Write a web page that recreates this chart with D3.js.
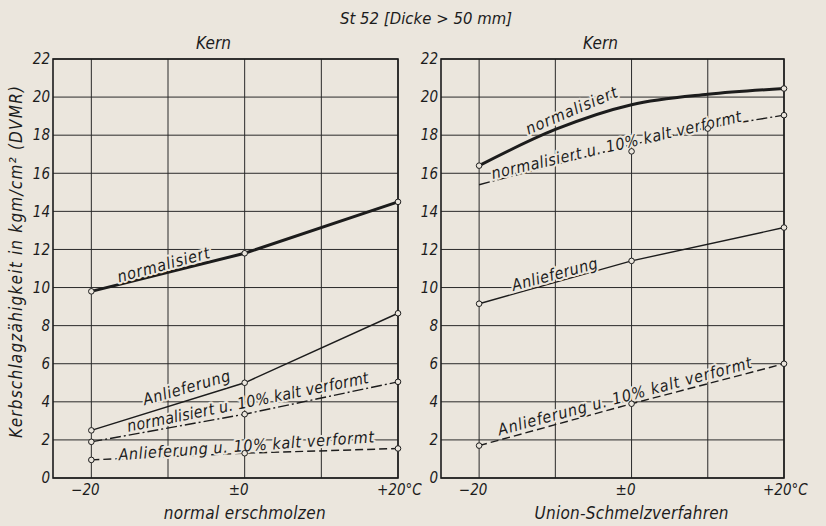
<!DOCTYPE html>
<html lang="de">
<head>
<meta charset="UTF-8">
<title>St 52 Kerbschlagzähigkeit</title>
<script src="https://d3js.org/d3.v7.min.js"></script>
<style>
    body { margin: 0; background: #ebe6dd; }
    svg { display: block; }
    text {
        font-family: "DejaVu Sans Condensed", "DejaVu Sans", sans-serif;
        font-style: italic;
        fill: #1c1c1c;
    }
    .grid line { stroke: #2a2a2a; stroke-width: 1; }
    .frame { fill: none; stroke: #1c1c1c; stroke-width: 1.6; }
    .halo { stroke: #ebe6dd; stroke-width: 4px; paint-order: stroke; stroke-linejoin: round; }
</style>
</head>
<body>
<svg width="826" height="526"></svg>
<script>
// temperatures in °C
const temps = [-20, 0, 20];
const tempsFine = [-20, -10, 0, 10, 20];
const tempsKalt = [-20, 0, 10, 20];
const tempsKaltPts = [0, 10, 20];

const yTicks = d3.range(0, 23, 2);
const xTickLabels = ["\u221220", "\u00b10", "+20\u00b0C"];

// Kerbschlagzähigkeit kgm/cm², normal erschmolzen
const leftNormalisiert = [9.8, 11.8, 14.5];
const leftAnlieferung = [2.5, 5.0, 8.65];
const leftNormKalt = [1.9, 3.35, 5.05];
const leftAnlKalt = [0.95, 1.3, 1.55];

// Union-Schmelzverfahren
const rightNormalisiert = [16.4, 18.3, 19.6, 20.15, 20.45];
const rightNormalisiertPts = [16.4, 20.45];
const rightNormKalt = [15.4, 17.5, 18.4, 19.05];
const rightNormKaltPts = [17.15, 18.35, 19.05];
const rightAnlieferung = [9.15, 11.4, 13.15];
const rightAnlKalt = [1.7, 3.9, 6.0];

const svg = d3.select("svg");

const y = d3.scaleLinear().domain([0, 22]).range([478, 59]);

const panels = [
    {
        x: d3.scaleLinear().domain([-25, 20]).range([53, 398]),
        sub: "normal erschmolzen", subLen: 162,
        series: [
            { xs: temps, ys: leftNormalisiert, px: temps, py: leftNormalisiert, w: 3, dash: null },
            { xs: temps, ys: leftAnlieferung, px: temps, py: leftAnlieferung, w: 1.4, dash: null },
            { xs: temps, ys: leftNormKalt, px: temps, py: leftNormKalt, w: 1.4, dash: "11,3,2,3" },
            { xs: temps, ys: leftAnlKalt, px: temps, py: leftAnlKalt, w: 1.4, dash: "8,4" }
        ],
        labels: [
            { t: "normalisiert", x: -10.6, y: 11.2, a: -15, len: 95 },
            { t: "Anlieferung", x: -7.6, y: 4.75, a: -16, len: 90 },
            { t: "normalisiert u. 10% kalt verformt", x: 0.4, y: 4.0, a: -11.5, len: 246 },
            { t: "Anlieferung u. 10% kalt verformt", x: 0.2, y: 1.7, a: -4, len: 256 }
        ]
    },
    {
        x: d3.scaleLinear().domain([-25, 20]).range([441, 784]),
        sub: "Union-Schmelzverfahren", subLen: 194,
        series: [
            { xs: tempsFine, ys: rightNormalisiert, px: [-20, 20], py: rightNormalisiertPts, w: 3, dash: null, curve: true },
            { xs: tempsKalt, ys: rightNormKalt, px: tempsKaltPts, py: rightNormKaltPts, w: 1.4, dash: "11,3,2,3" },
            { xs: temps, ys: rightAnlieferung, px: temps, py: rightAnlieferung, w: 1.4, dash: null },
            { xs: temps, ys: rightAnlKalt, px: temps, py: rightAnlKalt, w: 1.4, dash: "8,4" }
        ],
        labels: [
            { t: "normalisiert", x: -7.9, y: 19.3, a: -23, len: 98 },
            { t: "normalisiert u. 10% kalt verformt", x: -2.0, y: 17.5, a: -13, len: 256 },
            { t: "Anlieferung", x: -10.1, y: 10.7, a: -15, len: 88 },
            { t: "Anlieferung u. 10% kalt verformt", x: -0.9, y: 4.3, a: -15, len: 262 }
        ]
    }
];

panels.forEach(p => {
    const x = p.x;
    const g = svg.append("g");

    // grid
    const grid = g.append("g").attr("class", "grid");
    grid.selectAll(".h").data(yTicks).enter().append("line")
        .attr("x1", x.range()[0]).attr("x2", x.range()[1])
        .attr("y1", d => y(d)).attr("y2", d => y(d));
    grid.selectAll(".v").data(tempsFine).enter().append("line")
        .attr("x1", d => x(d)).attr("x2", d => x(d))
        .attr("y1", y(0)).attr("y2", y(22));
    g.append("rect").attr("class", "frame")
        .attr("x", x.range()[0]).attr("y", y(22))
        .attr("width", x.range()[1] - x.range()[0]).attr("height", y(0) - y(22));

    // y tick labels
    g.selectAll(".yl").data(yTicks).enter().append("text")
        .attr("x", x.range()[0] - 3).attr("y", d => y(d))
        .attr("dy", "0.35em").attr("text-anchor", "end")
        .attr("font-size", 15).text(d => d);

    // x tick labels
    g.selectAll(".xl").data(temps).enter().append("text")
        .attr("x", (d, i) => i === 2 ? x(d) - 21 : x(d) - 6)
        .attr("y", 490).attr("dy", "0.35em")
        .attr("text-anchor", (d, i) => i === 2 ? "start" : "middle")
        .attr("font-size", 15).text((d, i) => xTickLabels[i]);

    g.append("text").attr("x", x(0)).attr("y", 513).attr("dy", "0.35em")
        .attr("text-anchor", "middle").attr("font-size", 17)
        .attr("textLength", p.subLen).attr("lengthAdjust", "spacing").text(p.sub);
    g.append("text").attr("x", (x(-25) + x(20)) / 2 - 12).attr("y", 43).attr("dy", "0.35em")
        .attr("text-anchor", "middle").attr("font-size", 17).text("Kern");

    // series
    p.series.forEach(s => {
        const line = d3.line().x(d => x(d[0])).y(d => y(d[1]));
        if (s.curve) line.curve(d3.curveMonotoneX);
        g.append("path")
            .datum(d3.zip(s.xs, s.ys))
            .attr("d", line)
            .attr("fill", "none").attr("stroke", "#1c1c1c")
            .attr("stroke-width", s.w)
            .attr("stroke-dasharray", s.dash);
    });

    // labels with paper halo
    p.labels.forEach(l => {
        g.append("text").attr("class", "halo")
            .attr("transform", `translate(${x(l.x)},${y(l.y)}) rotate(${l.a})`)
            .attr("dy", "0.35em").attr("text-anchor", "middle")
            .attr("font-size", 16)
            .attr("textLength", l.len).attr("lengthAdjust", "spacing")
            .text(l.t);
    });

    // markers
    p.series.forEach(s => {
        g.selectAll(null).data(d3.zip(s.px, s.py)).enter().append("circle")
            .attr("cx", d => x(d[0])).attr("cy", d => y(d[1])).attr("r", 2.8)
            .attr("fill", "#ebe6dd").attr("stroke", "#1c1c1c").attr("stroke-width", 1);
    });
});

svg.append("text").attr("x", 426).attr("y", 18).attr("dy", "0.35em")
    .attr("text-anchor", "middle").attr("font-size", 16.5)
    .attr("textLength", 172).attr("lengthAdjust", "spacing")
    .text("St 52 [Dicke > 50 mm]");

svg.append("text")
    .attr("transform", "translate(16,262) rotate(-90)")
    .attr("dy", "0.35em").attr("text-anchor", "middle").attr("font-size", 17)
    .attr("textLength", 352).attr("lengthAdjust", "spacing")
    .text("Kerbschlagzähigkeit in kgm/cm² (DVMR)");
</script>
</body>
</html>
